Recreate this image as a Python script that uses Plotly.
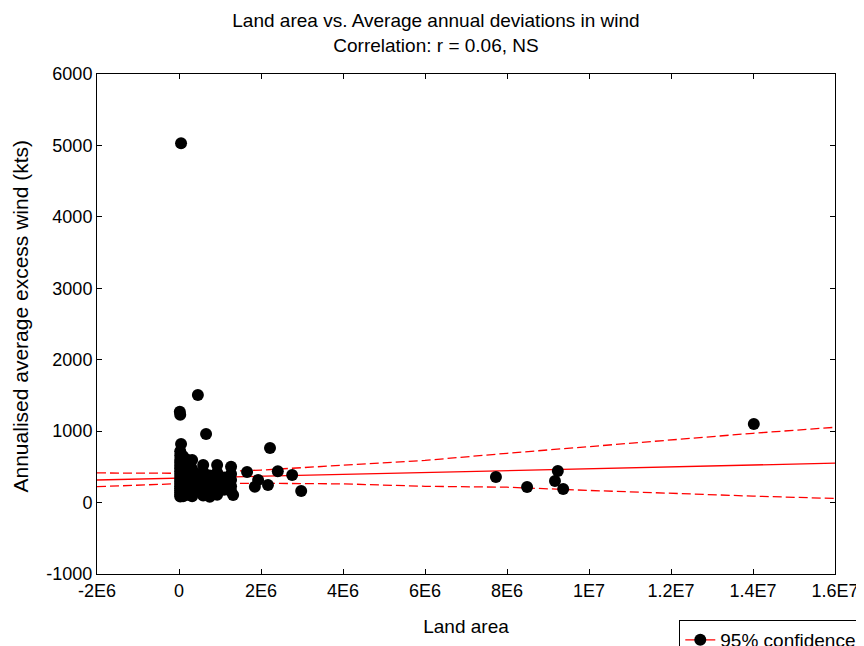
import plotly.graph_objects as go

# ---- data ----
land_area = [
    0.05e6, 0.02e6, 0.03e6, 0.46e6, 0.66e6, 0.05e6, 2.22e6, 0.32e6, 0.59e6, 0.93e6,
    1.27e6, 1.66e6, 1.93e6, 2.17e6, 2.41e6, 2.76e6, 2.98e6, 1.85e6, 1.32e6,
    7.73e6, 8.49e6, 9.24e6, 9.17e6, 9.37e6, 14.02e6,
    # dense cluster near zero
    0.03e6, 0.03e6, 0.03e6, 0.03e6, 0.03e6, 0.03e6, 0.03e6, 0.03e6, 0.03e6,
    0.03e6, 0.03e6, 0.03e6, 0.03e6, 0.03e6, 0.03e6, 0.03e6, 0.03e6, 0.03e6,
    0.10e6, 0.10e6, 0.10e6, 0.10e6, 0.10e6, 0.10e6, 0.10e6, 0.10e6,
    0.20e6, 0.20e6, 0.20e6, 0.20e6, 0.20e6, 0.20e6, 0.20e6,
    0.32e6, 0.32e6, 0.32e6, 0.32e6, 0.32e6, 0.32e6,
    0.45e6, 0.45e6, 0.45e6, 0.45e6,
    0.59e6, 0.59e6, 0.59e6, 0.59e6, 0.59e6,
    0.75e6, 0.75e6, 0.75e6, 0.75e6, 0.75e6,
    0.93e6, 0.93e6, 0.93e6, 0.93e6, 0.93e6,
    1.10e6, 1.10e6, 1.10e6,
    1.27e6, 1.27e6, 1.27e6, 1.27e6,
]
excess_wind = [
    5030, 1270, 1230, 1506, 960, 820, 765, 595, 525, 525,
    500, 428, 316, 246, 440, 385, 163, 220, 105,
    358, 218, 442, 302, 190, 1100,
    720, 660, 600, 560, 520, 480, 440, 400, 360,
    320, 290, 260, 230, 200, 170, 140, 110, 85,
    650, 560, 470, 380, 300, 220, 150, 90,
    600, 500, 420, 340, 260, 180, 110,
    470, 380, 300, 220, 140, 90,
    400, 310, 230, 160,
    430, 340, 250, 170, 100,
    380, 290, 210, 130, 80,
    420, 330, 240, 160, 110,
    350, 260, 180,
    400, 315, 230, 160,
]

fit_x = [-2e6, 16e6]
fit_y = [316, 552]

band_x = [-2e6, 0, 2e6, 4e6, 6e6, 8e6, 10e6, 12e6, 14e6, 16e6]
band_upper = [415, 410, 455, 520, 590, 690, 785, 880, 970, 1054]
band_lower = [222, 265, 270, 262, 228, 215, 170, 125, 90, 58]

x_tickvals = [-2e6, 0, 2e6, 4e6, 6e6, 8e6, 10e6, 12e6, 14e6, 16e6]
x_ticktext = ["-2E6", "0", "2E6", "4E6", "6E6", "8E6", "1E7", "1.2E7", "1.4E7", "1.6E7"]
y_tickvals = [-1000, 0, 1000, 2000, 3000, 4000, 5000, 6000]
y_ticktext = ["-1000", "0", "1000", "2000", "3000", "4000", "5000", "6000"]

FONT = "Liberation Sans, Arial, sans-serif"
RED = "#ff0000"

fig = go.Figure()
fig.add_trace(go.Scatter(x=band_x, y=band_upper, mode="lines",
                         line=dict(color=RED, width=1.3, dash="9px,4px"),
                         showlegend=False, hoverinfo="skip"))
fig.add_trace(go.Scatter(x=band_x, y=band_lower, mode="lines",
                         line=dict(color=RED, width=1.3, dash="9px,4px"),
                         showlegend=False, hoverinfo="skip"))
fig.add_trace(go.Scatter(x=fit_x, y=fit_y, mode="lines",
                         line=dict(color=RED, width=1.3),
                         showlegend=False, hoverinfo="skip"))
fig.add_trace(go.Scatter(x=land_area, y=excess_wind, mode="markers",
                         marker=dict(color="black", size=12, line=dict(width=0)),
                         showlegend=False))
# legend-only entry
fig.add_trace(go.Scatter(x=[None], y=[None], mode="lines+markers",
                         name="95% confidence",
                         line=dict(color=RED, width=1.3),
                         marker=dict(color="black", size=12)))

# page body has an 8px margin, so the figure is 8px smaller and margins shifted
fig.update_layout(
    width=856, height=638,
    margin=dict(l=89, r=29, t=66, b=72, autoexpand=False),
    paper_bgcolor="white", plot_bgcolor="white",
    font=dict(family=FONT, size=18, color="black"),
    title=dict(text="Land area vs. Average annual deviations in wind<br>Correlation: r = 0.06, NS",
               x=0.5, xanchor="center", y=0.970, yanchor="top",
               font=dict(family=FONT, size=19, color="black")),
    xaxis=dict(range=[-2e6, 16e6], tickvals=x_tickvals, ticktext=x_ticktext,
               showgrid=False, zeroline=False, showline=True, linecolor="black",
               linewidth=1, mirror="ticks", ticks="inside", ticklen=5,
               tickcolor="black",
               title=dict(text="Land area", standoff=20, font=dict(size=19))),
    yaxis=dict(range=[-1000, 6000], tickvals=y_tickvals, ticktext=y_ticktext,
               showgrid=False, zeroline=False, showline=True, linecolor="black",
               linewidth=1, mirror="ticks", ticks="inside", ticklen=5,
               tickcolor="black"),
    annotations=[dict(text="Annualised average excess wind (kts)",
                      xref="paper", yref="paper", x=-0.105, y=0.516,
                      xanchor="center", yanchor="middle", textangle=-90,
                      showarrow=False, font=dict(family=FONT, size=21, color="black"))],
    legend=dict(x=0.789, y=-0.092, xanchor="left", yanchor="top",
                bordercolor="black", borderwidth=1, bgcolor="white",
                font=dict(family=FONT, size=19)),
    showlegend=True,
)

fig.write_html("out.html")
